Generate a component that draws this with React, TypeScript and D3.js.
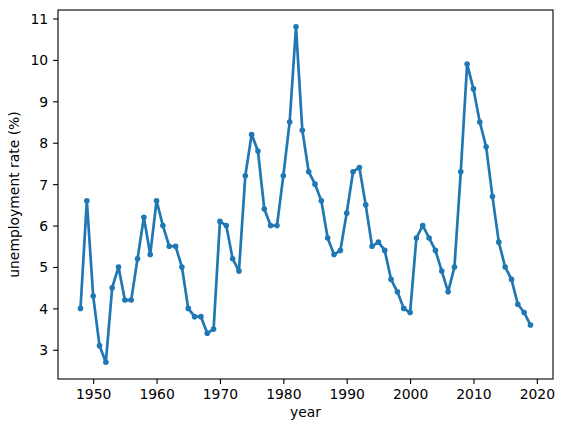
import React, { useEffect, useRef } from 'react';
import * as d3 from 'd3';

const years: number[] = d3.range(1948, 2020);

const rates: number[] = [
  4.0, 6.6, 4.3, 3.1, 2.7, 4.5, 5.0, 4.2, 4.2, 5.2,
  6.2, 5.3, 6.6, 6.0, 5.5, 5.5, 5.0, 4.0, 3.8, 3.8,
  3.4, 3.5, 6.1, 6.0, 5.2, 4.9, 7.2, 8.2, 7.8, 6.4,
  6.0, 6.0, 7.2, 8.5, 10.8, 8.3, 7.3, 7.0, 6.6, 5.7,
  5.3, 5.4, 6.3, 7.3, 7.4, 6.5, 5.5, 5.6, 5.4, 4.7,
  4.4, 4.0, 3.9, 5.7, 6.0, 5.7, 5.4, 4.9, 4.4, 5.0,
  7.3, 9.9, 9.3, 8.5, 7.9, 6.7, 5.6, 5.0, 4.7, 4.1,
  3.9, 3.6,
];

const xTicks: number[] = [1950, 1960, 1970, 1980, 1990, 2000, 2010, 2020];
const yTicks: number[] = [3, 4, 5, 6, 7, 8, 9, 10, 11];

const App: React.FC = () => {
  const chartRef = useRef<SVGSVGElement>(null);

  useEffect(() => {
    if (!chartRef.current) return;

    const svg = d3.select(chartRef.current);
    svg.selectAll('*').remove();

    const margin = { top: 10, left: 58 };
    const width = 495;
    const height = 369;
    const font = 'DejaVu Sans, sans-serif';
    const fontSize = '13.9px';
    const color = '#1f77b4';

    const data = years.map((y, i) => ({ year: y, rate: rates[i] }));

    // matplotlib-style 5% margins
    const xPad = (d3.max(years)! - d3.min(years)!) * 0.05;
    const yPad = (d3.max(rates)! - d3.min(rates)!) * 0.05;

    const xScale = d3.scaleLinear()
      .domain([d3.min(years)! - xPad, d3.max(years)! + xPad])
      .range([0, width]);
    const yScale = d3.scaleLinear()
      .domain([d3.min(rates)! - yPad, d3.max(rates)! + yPad])
      .range([height, 0]);

    const g = svg.append('g').attr('transform', `translate(${margin.left},${margin.top})`);

    const line = d3.line<{ year: number; rate: number }>()
      .x(d => xScale(d.year))
      .y(d => yScale(d.rate));

    g.append('path')
      .datum(data)
      .attr('d', line)
      .attr('fill', 'none')
      .attr('stroke', color)
      .attr('stroke-width', 2.7)
      .attr('stroke-linejoin', 'round')
      .attr('stroke-linecap', 'square');

    g.selectAll('circle')
      .data(data)
      .enter()
      .append('circle')
      .attr('cx', d => xScale(d.year))
      .attr('cy', d => yScale(d.rate))
      .attr('r', 2.8)
      .attr('fill', color);

    const xAxis = d3.axisBottom(xScale)
      .tickValues(xTicks)
      .tickFormat(d3.format('d'))
      .tickSize(4.9)
      .tickPadding(4.9);
    const yAxis = d3.axisLeft(yScale)
      .tickValues(yTicks)
      .tickFormat(d3.format('d'))
      .tickSize(4.9)
      .tickPadding(4.9);

    const gx = g.append('g').attr('transform', `translate(0,${height})`).call(xAxis);
    const gy = g.append('g').call(yAxis);

    [gx, gy].forEach(ax => {
      ax.select('.domain').remove();
      ax.selectAll('line').attr('stroke', '#000').attr('stroke-width', 1.1);
      ax.selectAll('text')
        .attr('fill', '#000')
        .style('font-family', font)
        .style('font-size', fontSize);
    });
    gx.selectAll('text').attr('dy', '0.76em');
    gy.selectAll('text').attr('dy', '0.36em');

    g.append('rect')
      .attr('width', width)
      .attr('height', height)
      .attr('fill', 'none')
      .attr('stroke', '#000')
      .attr('stroke-width', 1.1);

    svg.append('text')
      .attr('x', margin.left + width / 2)
      .attr('y', 417)
      .attr('text-anchor', 'middle')
      .text('year')
      .style('font-family', font)
      .style('font-size', fontSize);

    svg.append('text')
      .attr('transform', `translate(19,${margin.top + height / 2}) rotate(-90)`)
      .attr('text-anchor', 'middle')
      .text('unemployment rate (%)')
      .style('font-family', font)
      .style('font-size', fontSize);
  }, []);

  return (
    <div style={{ position: 'fixed', left: 0, top: 0, width: 565, height: 432, background: '#fff' }}>
      <svg ref={chartRef} width={565} height={432} style={{ display: 'block' }}></svg>
    </div>
  );
};

export default App;
